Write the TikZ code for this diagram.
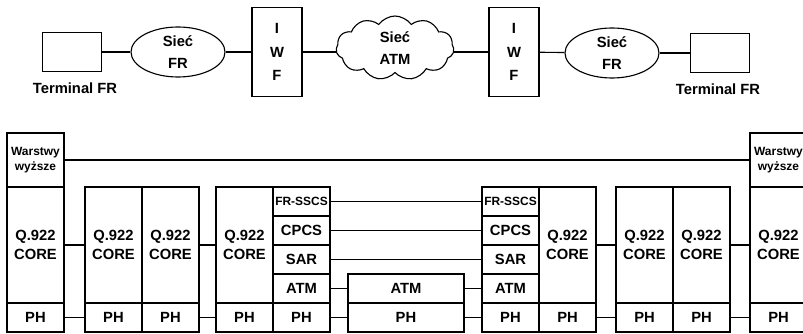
\documentclass[tikz,border=0pt]{standalone}
\usepackage{fontspec}
\setsansfont{Liberation Sans}
\usetikzlibrary{positioning, shapes.geometric, shapes.symbols}
\newdimen\px \px=0.025cm

\begin{document}
\begin{tikzpicture}[x=0.025cm, y=-0.025cm, line width=0.8pt,
  font=\sffamily\bfseries\fontsize{10.5}{13.5}\selectfont,
  box/.style 2 args={draw, rectangle, inner sep=0pt, align=center,
             minimum width=#1\px, minimum height=#2\px},
  net/.style={draw, ellipse, inner sep=0pt, align=center,
             minimum width=94\px, minimum height=50\px,
             font=\sffamily\bfseries\fontsize{10.5}{15.5}\selectfont},
  atmnet/.style={draw, cloud, cloud puffs=11, cloud puff arc=110, aspect=1.8,
             inner sep=0pt, align=center, minimum width=118\px, minimum height=64\px,
             font=\sffamily\bfseries\fontsize{10.5}{16}\selectfont},
  iwf/.style={box={50}{89}, font=\sffamily\bfseries\fontsize{10.5}{17}\selectfont},
  smalltxt/.style={font=\sffamily\bfseries\fontsize{8.5}{11}\selectfont},
  lab/.style={inner sep=0pt}]
\useasboundingbox (0,0) rectangle (803,334);
% network
\node[box={59}{39}] (termL) at (72,52) {};
\node[lab] (termLlab) at (75,88) {Terminal FR};
\node[net] (frL) at (178,52) {Sieć\\FR};
\node[iwf] (iwfL) at (277,52) {I\\W\\F};
\node[atmnet] (netATM) at (395,48) {Sieć\\ATM};
\node[iwf] (iwfR) at (514,52) {I\\W\\F};
\node[net] (frR) at (612,53) {Sieć\\FR};
\node[box={59}{39}] (termR) at (720,53) {};
\node[lab] (termRlab) at (718,89) {Terminal FR};
\foreach \a/\b in {termL/frL, frL/iwfL, iwfR/frR, frR/termR}
  \draw (\a) -- (\b);
\draw (iwfL.east) -- (iwfL.east -| netATM.west);
\draw (iwfR.west) -- (iwfR.west -| netATM.east);
% protocol stacks
\node[box={57}{54}, smalltxt] (wyA) at (35.5,160) {Warstwy\\wyższe};
\node[box={57}{54}, smalltxt] (wyF) at (778.5,160) {Warstwy\\wyższe};
\draw (wyA) -- (wyF);
\foreach \n/\x in {A/35.5, B/113.5, Bb/170.5, C/244.5, D/567.5, E/644.5, Ee/701.5, F/778.5}{
  \node[box={57}{116}] (core\n) at (\x,245) {Q.922\\CORE};
  \node[box={57}{29}] (ph\n) at (\x,317.5) {PH};
}
\foreach \r/\t/\y in {fr/{\fontsize{8.5}{10}\selectfont FR-SSCS}/201.5, cp/CPCS/230.5,
                      sa/SAR/259.5, atm/ATM/288.5, ph/PH/317.5}{
  \node[box={57}{29}] (\r1) at (301.5,\y) {\t};
  \node[box={57}{29}] (\r2) at (510.5,\y) {\t};
}
\node[box={116}{29}] (atmM) at (406,288.5) {ATM};
\node[box={116}{29}] (phM) at (406,317.5) {PH};
\foreach \a/\b in {coreA/coreB, coreBb/coreC, coreD/coreE, coreEe/coreF,
                   phA/phB, phBb/phC, phD/phE, phEe/phF,
                   fr1/fr2, cp1/cp2, sa1/sa2, atm1/atmM, atmM/atm2, ph1/phM, phM/ph2}
  \draw (\a) -- (\b);
\end{tikzpicture}
\end{document}
